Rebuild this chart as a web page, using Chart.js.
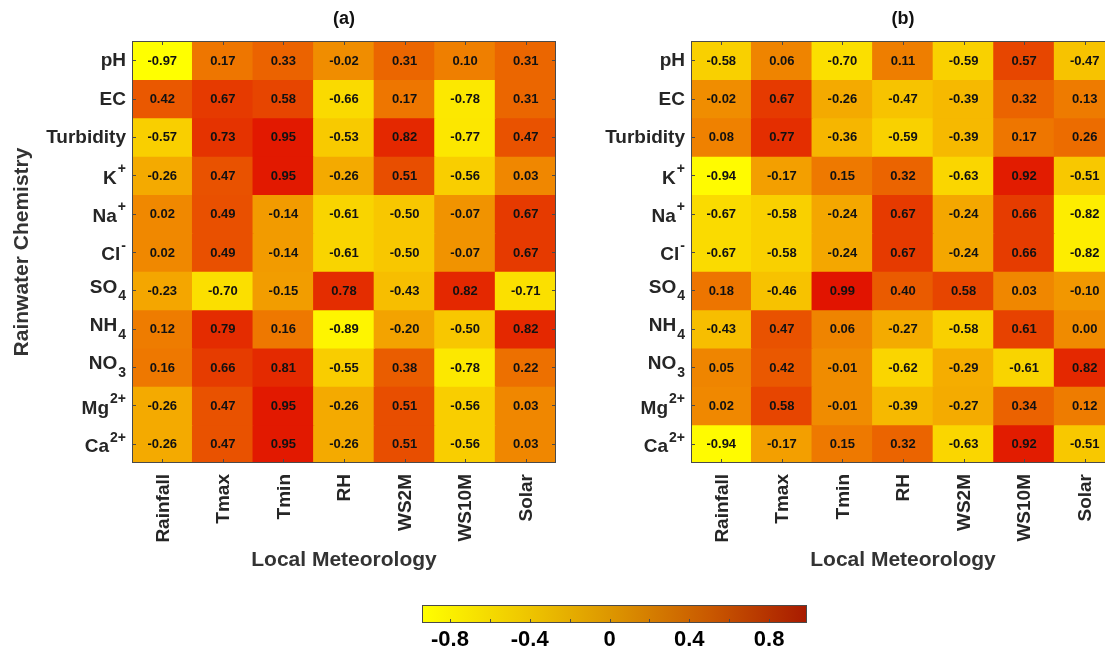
<!DOCTYPE html>
<html>
<head>
<meta charset="utf-8">
<script src="https://cdn.jsdelivr.net/npm/chart.js@4.4.1/dist/chart.umd.min.js"></script>
<style>
  html, body { margin: 0; padding: 0; background: #fff; overflow: hidden; width: 1105px; height: 649px; }
  canvas { position: absolute; }
</style>
</head>
<body>
<canvas id="chartA" width="600" height="580" style="left:0px;top:0px;width:600px;height:580px"></canvas>
<canvas id="chartB" width="600" height="580" style="left:559px;top:0px;width:600px;height:580px"></canvas>
<canvas id="chartCB" width="460" height="69" style="left:380px;top:580px;width:460px;height:69px"></canvas>
<script>
// ---------------- DATA ----------------
const meteoCols = ['Rainfall', 'Tmax', 'Tmin', 'RH', 'WS2M', 'WS10M', 'Solar'];
const chemRows = ['pH', 'EC', 'Turbidity', 'K^+', 'Na^+', 'Cl^-', 'SO_4', 'NH_4', 'NO_3', 'Mg^2+', 'Ca^2+'];

const valuesA = [
  [-0.97, 0.17, 0.33, -0.02, 0.31, 0.10, 0.31],
  [0.42, 0.67, 0.58, -0.66, 0.17, -0.78, 0.31],
  [-0.57, 0.73, 0.95, -0.53, 0.82, -0.77, 0.47],
  [-0.26, 0.47, 0.95, -0.26, 0.51, -0.56, 0.03],
  [0.02, 0.49, -0.14, -0.61, -0.50, -0.07, 0.67],
  [0.02, 0.49, -0.14, -0.61, -0.50, -0.07, 0.67],
  [-0.23, -0.70, -0.15, 0.78, -0.43, 0.82, -0.71],
  [0.12, 0.79, 0.16, -0.89, -0.20, -0.50, 0.82],
  [0.16, 0.66, 0.81, -0.55, 0.38, -0.78, 0.22],
  [-0.26, 0.47, 0.95, -0.26, 0.51, -0.56, 0.03],
  [-0.26, 0.47, 0.95, -0.26, 0.51, -0.56, 0.03]
];

const valuesB = [
  [-0.58, 0.06, -0.70, 0.11, -0.59, 0.57, -0.47],
  [-0.02, 0.67, -0.26, -0.47, -0.39, 0.32, 0.13],
  [0.08, 0.77, -0.36, -0.59, -0.39, 0.17, 0.26],
  [-0.94, -0.17, 0.15, 0.32, -0.63, 0.92, -0.51],
  [-0.67, -0.58, -0.24, 0.67, -0.24, 0.66, -0.82],
  [-0.67, -0.58, -0.24, 0.67, -0.24, 0.66, -0.82],
  [0.18, -0.46, 0.99, 0.40, 0.58, 0.03, -0.10],
  [-0.43, 0.47, 0.06, -0.27, -0.58, 0.61, 0.00],
  [0.05, 0.42, -0.01, -0.62, -0.29, -0.61, 0.82],
  [0.02, 0.58, -0.01, -0.39, -0.27, 0.34, 0.12],
  [-0.94, -0.17, 0.15, 0.32, -0.63, 0.92, -0.51]
];

const colorMin = -0.97, colorMax = 0.99;
const cbMin = -0.94, cbMax = 0.99;
const cbTickLabels = [-0.8, -0.4, 0, 0.4, 0.8];
const cbTickMarks = [-0.8, -0.6, -0.4, -0.2, 0, 0.2, 0.4, 0.6, 0.8];

// ---------------- STYLE ----------------
const FONT = '"Liberation Sans", Arial, Helvetica, sans-serif';
const PLOT = { left: 132, right: 556, top: 41, bottom: 463 };
const CW = 600, CH = 580;

function cellColor(v) {
  let t = (v - colorMin) / (colorMax - colorMin);
  t = Math.max(0, Math.min(1, t));
  const r = Math.round(255 - 30 * t);
  const g = Math.round(255 - 235 * t);
  return `rgb(${r},${g},0)`;
}

function drawRich(ctx, label, xRight, yc) {
  let base = label, script = '', kind = '';
  if (label.includes('^')) { [base, script] = label.split('^'); kind = 'sup'; }
  else if (label.includes('_')) { [base, script] = label.split('_'); kind = 'sub'; }
  const bf = `bold 19px ${FONT}`, sf = `bold 14px ${FONT}`;
  ctx.font = bf; const wb = ctx.measureText(base).width;
  ctx.font = sf; const ws = script ? ctx.measureText(script).width + 1 : 0;
  const x0 = xRight - wb - ws;
  ctx.textAlign = 'left'; ctx.textBaseline = 'middle';
  let by = yc + 1;
  if (kind === 'sub') by = yc - 3;
  if (kind === 'sup') by = yc + 3;
  ctx.font = bf; ctx.fillText(base, x0, by);
  if (script) {
    ctx.font = sf;
    const sy = kind === 'sup' ? by - 9 : by + 9;
    ctx.fillText(script, x0 + wb + 1, sy);
  }
}

const heatPlugin = {
  id: 'heatPlugin',
  afterDatasetsDraw(chart) {
    const ctx = chart.ctx;
    const vals = chart.options.plugins.heatPlugin.values;
    ctx.save();
    ctx.fillStyle = '#111';
    ctx.font = `bold 13px ${FONT}`;
    ctx.textAlign = 'center'; ctx.textBaseline = 'middle';
    chart.data.datasets.forEach((ds, r) => {
      const meta = chart.getDatasetMeta(r);
      meta.data.forEach((bar, c) => {
        const p = bar.getProps(['x', 'y', 'base'], true);
        ctx.fillText(vals[r][c].toFixed(2), p.x, (p.y + p.base) / 2 + 1);
      });
    });
    ctx.restore();
  },
  afterDraw(chart) {
    const o = chart.options.plugins.heatPlugin;
    const ctx = chart.ctx, ca = chart.chartArea;
    const xs = chart.scales.x, ys = chart.scales.y;
    ctx.save();
    // frame
    ctx.strokeStyle = '#4a4a4a'; ctx.lineWidth = 1;
    ctx.strokeRect(ca.left + 0.5, ca.top + 0.5, ca.right - ca.left - 1, ca.bottom - ca.top - 1);
    // tick marks (inward)
    ctx.beginPath();
    meteoCols.forEach((_, c) => {
      const x = Math.round(xs.getPixelForValue(c)) + 0.5;
      ctx.moveTo(x, ca.top); ctx.lineTo(x, ca.top + 4);
      ctx.moveTo(x, ca.bottom); ctx.lineTo(x, ca.bottom - 4);
    });
    chemRows.forEach((_, r) => {
      const y = Math.round(ys.getPixelForValue(r + 0.5)) + 0.5;
      ctx.moveTo(ca.left, y); ctx.lineTo(ca.left + 4, y);
      ctx.moveTo(ca.right, y); ctx.lineTo(ca.right - 4, y);
    });
    ctx.stroke();
    // row labels
    ctx.fillStyle = '#262626';
    chemRows.forEach((lab, r) => {
      drawRich(ctx, lab, ca.left - 6, ys.getPixelForValue(r + 0.5));
    });
    // column labels (rotated)
    ctx.font = `bold 19px ${FONT}`;
    meteoCols.forEach((lab, c) => {
      ctx.save();
      ctx.translate(xs.getPixelForValue(c) + 1, ca.bottom + 11);
      ctx.rotate(-Math.PI / 2);
      ctx.textAlign = 'right'; ctx.textBaseline = 'middle';
      ctx.fillText(lab, 0, 0);
      ctx.restore();
    });
    // panel title
    ctx.fillStyle = '#111';
    ctx.font = `bold 18px ${FONT}`;
    ctx.textAlign = 'center'; ctx.textBaseline = 'middle';
    ctx.fillText(o.title, (ca.left + ca.right) / 2, 19);
    // axis titles
    ctx.fillStyle = '#333';
    ctx.font = `bold 21px ${FONT}`;
    ctx.fillText('Local Meteorology', (ca.left + ca.right) / 2, 560);
    if (o.yTitle) {
      ctx.save();
      ctx.translate(22, (ca.top + ca.bottom) / 2);
      ctx.rotate(-Math.PI / 2);
      ctx.fillText(o.yTitle, 0, 0);
      ctx.restore();
    }
    ctx.restore();
  }
};

function makeHeatmap(id, values, title, yTitle) {
  const datasets = chemRows.map((lab, r) => ({
    label: lab,
    data: meteoCols.map(() => [r, r + 1]),
    backgroundColor: values[r].map(cellColor),
    borderWidth: 0,
    barPercentage: 1,
    categoryPercentage: 1,
    grouped: false,
    inflateAmount: 0.6
  }));
  new Chart(document.getElementById(id), {
    type: 'bar',
    data: { labels: meteoCols, datasets },
    options: {
      responsive: false,
      devicePixelRatio: 1,
      animation: false,
      layout: { padding: { top: PLOT.top, left: 0, right: CW - PLOT.right, bottom: CH - PLOT.bottom - 100 } },
      plugins: {
        legend: { display: false },
        tooltip: { enabled: false },
        heatPlugin: { values, title, yTitle }
      },
      scales: {
        x: {
          type: 'category',
          offset: true,
          grid: { display: false },
          border: { display: false },
          ticks: { display: false },
          afterFit: s => { s.height = 100; }
        },
        y: {
          type: 'linear',
          min: 0, max: chemRows.length,
          reverse: true,
          grid: { display: false },
          border: { display: false },
          ticks: { display: false },
          afterFit: s => { s.width = PLOT.left; }
        }
      }
    },
    plugins: [heatPlugin]
  });
}

makeHeatmap('chartA', valuesA, '(a)', 'Rainwater Chemistry');
makeHeatmap('chartB', valuesB, '(b)', null);

// ---------------- COLORBAR ----------------
const cbPlugin = {
  id: 'cbPlugin',
  afterDraw(chart) {
    const ctx = chart.ctx, ca = chart.chartArea, xs = chart.scales.x;
    ctx.save();
    ctx.strokeStyle = '#4a4a4a'; ctx.lineWidth = 1;
    ctx.strokeRect(ca.left + 0.5, ca.top + 0.5, ca.right - ca.left - 1, ca.bottom - ca.top - 1);
    ctx.beginPath();
    cbTickMarks.forEach(v => {
      const x = Math.round(xs.getPixelForValue(v)) + 0.5;
      ctx.moveTo(x, ca.bottom); ctx.lineTo(x, ca.bottom - 4);
    });
    ctx.stroke();
    ctx.fillStyle = '#000';
    ctx.font = `bold 22px ${FONT}`;
    ctx.textAlign = 'center'; ctx.textBaseline = 'middle';
    cbTickLabels.forEach(v => {
      ctx.fillText(v === 0 ? '0' : String(v), xs.getPixelForValue(v), ca.bottom + 17);
    });
    ctx.restore();
  }
};

new Chart(document.getElementById('chartCB'), {
  type: 'bar',
  data: {
    labels: ['scale'],
    datasets: [{
      data: [[cbMin, cbMax]],
      borderWidth: 0,
      barPercentage: 1,
      categoryPercentage: 1,
      backgroundColor: (c) => {
        const ca = c.chart.chartArea;
        if (!ca) return '#ffff00';
        const g = c.chart.ctx.createLinearGradient(ca.left, 0, ca.right, 0);
        g.addColorStop(0, '#ffff00');
        g.addColorStop(0.25, '#f0cb00');
        g.addColorStop(0.5, '#dc9400');
        g.addColorStop(0.75, '#c95800');
        g.addColorStop(1, '#a81a00');
        return g;
      }
    }]
  },
  options: {
    indexAxis: 'y',
    responsive: false,
    devicePixelRatio: 1,
    animation: false,
    layout: { padding: { top: 25, left: 42, right: 33, bottom: 0 } },
    plugins: { legend: { display: false }, tooltip: { enabled: false } },
    scales: {
      x: {
        type: 'linear', min: cbMin, max: cbMax,
        grid: { display: false }, border: { display: false },
        ticks: { display: false },
        afterFit: s => { s.height = 26; }
      },
      y: {
        type: 'category',
        grid: { display: false }, border: { display: false },
        ticks: { display: false },
        afterFit: s => { s.width = 0; }
      }
    }
  },
  plugins: [cbPlugin]
});
</script>
</body>
</html>
